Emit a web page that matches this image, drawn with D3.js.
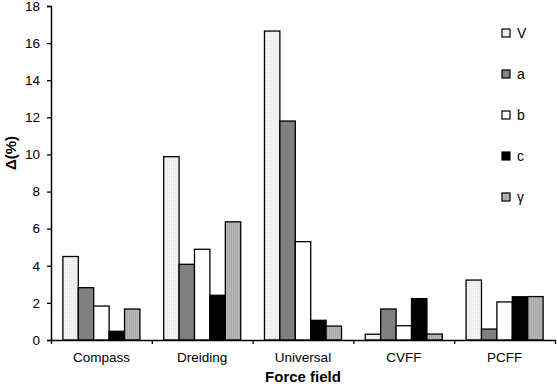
<!DOCTYPE html>
<html>
<head>
<meta charset="utf-8">
<script src="https://cdn.jsdelivr.net/npm/d3@7"></script>
<style>
  body { margin: 0; background: #fff; }
  text { font-family: "Liberation Sans", Arial, sans-serif; }
</style>
</head>
<body>
<div id="chart"></div>
<script>
// data
var fields = ["Compass", "Dreiding", "Universal", "CVFF", "PCFF"];
var params = ["V", "a", "b", "c", "γ"];
var vV     = [4.5, 9.88, 16.65, 0.31, 3.23];
var vA     = [2.82, 4.08, 11.8, 1.67, 0.59];
var vB     = [1.83, 4.89, 5.3, 0.77, 2.05];
var vC     = [0.47, 2.41, 1.06, 2.23, 2.33];
var vGamma = [1.67, 6.37, 0.75, 0.32, 2.34];
var yTicks = [0, 2, 4, 6, 8, 10, 12, 14, 16, 18];

var series = [vV, vA, vB, vC, vGamma];
var fills = ["url(#dots)", "#808080", "#ffffff", "#000000", "url(#stripes)"];

var margin = {top: 6, right: 2, bottom: 44, left: 51},
    width = 557 - margin.left - margin.right,
    height = 384 - margin.top - margin.bottom;

var svgRoot = d3.select("#chart")
  .append("svg")
    .attr("width", 557)
    .attr("height", 384);

// patterns for the lighter bars
var defs = svgRoot.append("defs");
var dots = defs.append("pattern")
    .attr("id", "dots").attr("patternUnits", "userSpaceOnUse")
    .attr("width", 2).attr("height", 2);
dots.append("rect").attr("width", 2).attr("height", 2).attr("fill", "#f4f4f4");
dots.append("rect").attr("width", 1).attr("height", 1).attr("fill", "#e4e4e4");
var stripes = defs.append("pattern")
    .attr("id", "stripes").attr("patternUnits", "userSpaceOnUse")
    .attr("width", 2).attr("height", 2);
stripes.append("rect").attr("width", 2).attr("height", 2).attr("fill", "#b8b8b8");
stripes.append("rect").attr("width", 1).attr("height", 2).attr("fill", "#a8a8a8");

var svg = svgRoot.append("g")
    .attr("transform", "translate(" + margin.left + "," + margin.top + ")");

var x = d3.scaleBand()
  .range([0, width])
  .domain(fields)
  .paddingInner(0)
  .paddingOuter(0);

var xInner = d3.scaleBand()
  .domain(params)
  .range([0, x.bandwidth()])
  .paddingOuter(0.77)
  .paddingInner(0);

var y = d3.scaleLinear()
  .domain([0, 18])
  .range([height, 0]);

// bars
params.forEach(function(p, i) {
  svg.selectAll(".bar" + i)
    .data(fields)
    .enter()
    .append("rect")
      .attr("x", function(d) { return x(d) + xInner(p); })
      .attr("y", function(d, j) { return y(series[i][j]); })
      .attr("width", xInner.bandwidth())
      .attr("height", function(d, j) { return height - y(series[i][j]); })
      .attr("fill", fills[i])
      .attr("stroke", "#000")
      .attr("stroke-width", 1.3);
});

// Y axis
var yAxis = svg.append("g")
  .call(d3.axisLeft(y).tickValues(yTicks).tickSize(4).tickPadding(7));
yAxis.select(".domain").attr("stroke-width", 1.5);
yAxis.selectAll("line").attr("stroke-width", 1.3);
yAxis.selectAll("text").style("font-size", "13.5px").attr("fill", "#000");

// X axis labels
var xAxis = svg.append("g")
  .attr("transform", "translate(0," + height + ")")
  .call(d3.axisBottom(x).tickSize(0).tickPadding(12));
xAxis.select(".domain").attr("stroke-width", 1.5);
xAxis.selectAll("text").style("font-size", "13.5px").attr("fill", "#000");

// boundary ticks
var xb = d3.scaleLinear().domain([0, fields.length]).range([0, width]);
var xTicks = svg.append("g")
  .attr("transform", "translate(0," + height + ")")
  .call(d3.axisBottom(xb).ticks(fields.length).tickSize(4).tickFormat(""));
xTicks.select(".domain").remove();
xTicks.selectAll("line").attr("stroke-width", 1.3);

// axis titles
svg.append("text")
  .attr("x", width / 2)
  .attr("y", height + 42)
  .attr("text-anchor", "middle")
  .style("font-size", "15px")
  .style("font-weight", "bold")
  .text("Force field");

svg.append("text")
  .attr("transform", "translate(" + (-35) + "," + (height / 2 - 20) + ") rotate(-90)")
  .attr("text-anchor", "middle")
  .style("font-size", "15px")
  .style("font-weight", "bold")
  .text("Δ(%)");

// legend
var legend = svg.selectAll(".legend")
  .data(params)
  .enter()
  .append("g")
    .attr("transform", function(d, i) { return "translate(" + (451) + "," + (27 + i * 41) + ")"; });
legend.append("rect")
  .attr("x", 0).attr("y", -4)
  .attr("width", 8).attr("height", 8)
  .attr("fill", function(d, i) { return fills[i]; })
  .attr("stroke", "#000")
  .attr("stroke-width", 1.2);
legend.append("text")
  .attr("x", 15)
  .attr("y", 5)
  .style("font-size", "14px")
  .text(function(d) { return d; });
</script>
</body>
</html>
